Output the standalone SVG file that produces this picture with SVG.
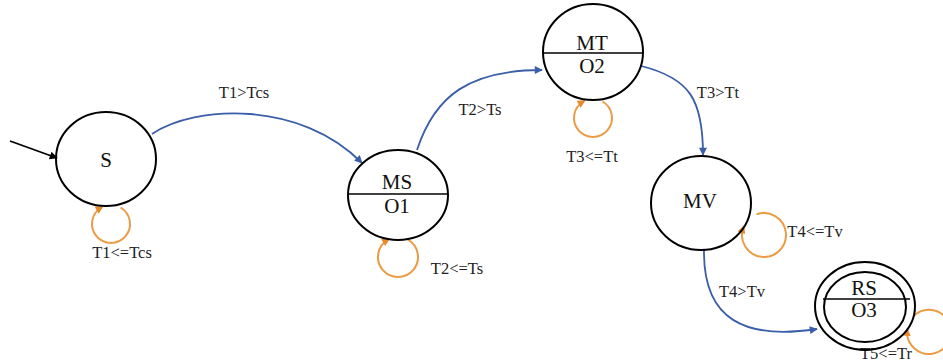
<svg xmlns="http://www.w3.org/2000/svg" width="943" height="362" viewBox="0 0 943 362">
  <style>
    .state { fill: none; stroke: #000; stroke-width: 2; }
    .divider { stroke: #000; stroke-width: 1.5; }
    .name { font-family: "Liberation Serif", "Times New Roman", serif; font-size: 21px; fill: #111; text-anchor: middle; }
    .label { font-family: "Liberation Serif", "Times New Roman", serif; font-size: 16.5px; fill: #222; text-anchor: middle; }
    .edge { fill: none; stroke: #3b5ea8; stroke-width: 1.8; marker-end: url(#arrowBlue); }
    .loop { fill: none; stroke: #eb9c44; stroke-width: 2; marker-end: url(#arrowOrange); }
    .start { fill: none; stroke: #000; stroke-width: 1.8; marker-end: url(#arrowBlack); }
  </style>
  <defs>
    <marker id="arrowBlue" viewBox="0 0 10 10" refX="9" refY="5" markerWidth="10" markerHeight="8" markerUnits="userSpaceOnUse" orient="auto">
      <path d="M0,0 L10,5 L0,10 z" fill="#3b5ea8"/>
    </marker>
    <marker id="arrowOrange" viewBox="0 0 10 10" refX="7" refY="5" markerWidth="9" markerHeight="8" markerUnits="userSpaceOnUse" orient="auto">
      <path d="M0,0 L10,5 L0,10 z" fill="#e8892a"/>
    </marker>
    <marker id="arrowBlack" viewBox="0 0 10 10" refX="9" refY="5" markerWidth="11" markerHeight="8" markerUnits="userSpaceOnUse" orient="auto">
      <path d="M0,0 L10,5 L0,10 z" fill="#000"/>
    </marker>
  </defs>

  <rect width="943" height="362" fill="#fff"/>

  <!-- transitions, self-loops and their labels -->
  <g id="connectors">
    <path class="start" d="M10,141 L57,158"/>

    <path class="edge" d="M152,134 C195,105 300,100 362,163"/>
    <path class="edge" d="M417,150 C435,95 470,70 542,70"/>
    <path class="edge" d="M641,66 C690,78 703,100 703,155"/>
    <path class="edge" d="M704,250 C703,320 745,340 817,329"/>

    <path class="loop" d="M120.5,207.5 A19,19 0 1 1 101.5,207.5"/>
    <path class="loop" d="M408,239.7 A20,20 0 1 1 388,239.7"/>
    <path class="loop" d="M602.5,101.5 A19,19 0 1 1 583.5,101.5"/>
    <path class="loop" d="M756.5,214.3 A22,22 0 1 1 743.3,227.5"/>
    <path class="loop" d="M913.4,316.4 A22,22 0 1 1 907.1,330.1"/>

    <text class="label" x="244" y="98">T1&gt;Tcs</text>
    <text class="label" x="122" y="258">T1&lt;=Tcs</text>
    <text class="label" x="480" y="115">T2&gt;Ts</text>
    <text class="label" x="457" y="274">T2&lt;=Ts</text>
    <text class="label" x="592" y="162">T3&lt;=Tt</text>
    <text class="label" x="718" y="98">T3&gt;Tt</text>
    <text class="label" x="815" y="237">T4&lt;=Tv</text>
    <text class="label" x="742" y="297">T4&gt;Tv</text>
    <text class="label" x="886" y="359">T5&lt;=Tr</text>
  </g>

  <g id="S">
    <ellipse class="state" cx="106" cy="159" rx="50" ry="47"/>
    <text class="name" x="106" y="167">S</text>
  </g>

  <g id="MS">
    <ellipse class="state" cx="398" cy="195" rx="50" ry="45"/>
    <line class="divider" x1="348" y1="194" x2="448" y2="194"/>
    <text class="name" x="397" y="189">MS</text>
    <text class="name" x="397" y="213">O1</text>
  </g>

  <g id="MT">
    <ellipse class="state" cx="593" cy="52" rx="50" ry="48"/>
    <line class="divider" x1="543" y1="53" x2="643" y2="53"/>
    <text class="name" x="592" y="50">MT</text>
    <text class="name" x="592" y="73">O2</text>
  </g>

  <g id="MV">
    <ellipse class="state" cx="701" cy="203" rx="50" ry="47"/>
    <text class="name" x="700" y="208">MV</text>
  </g>

  <g id="RS">
    <ellipse class="state" cx="865" cy="306" rx="50" ry="44"/>
    <ellipse class="state" cx="865" cy="307" rx="41" ry="35"/>
    <line class="divider" x1="823" y1="299" x2="910" y2="299"/>
    <text class="name" x="864" y="295">RS</text>
    <text class="name" x="864" y="317">O3</text>
  </g>
</svg>
